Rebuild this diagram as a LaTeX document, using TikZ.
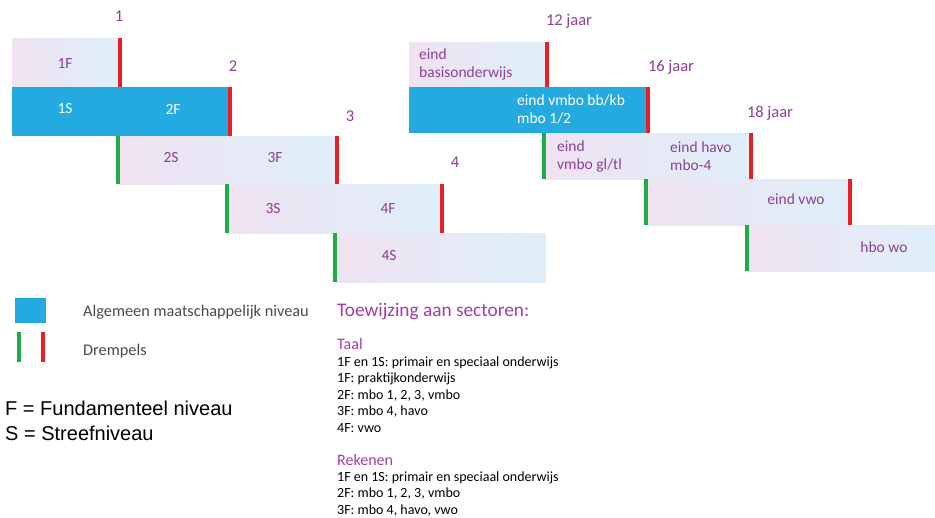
\documentclass[tikz,border=0pt]{standalone}
\usepackage{tikz}
\usetikzlibrary{shapes,calc,positioning}
\usepackage{xcolor}
\usepackage{fontspec}
\setmainfont{Carlito}
\newfontfamily\arialfont{Liberation Sans}

\definecolor{amnblue}{RGB}{34,170,225}
\definecolor{lvlpurple}{RGB}{140,64,152}
\definecolor{titlepurple}{RGB}{165,60,170}
\definecolor{barred}{RGB}{235,30,40}
\definecolor{bargreen}{RGB}{30,172,72}
\definecolor{boxpink}{RGB}{240,226,241}
\definecolor{boxblue}{RGB}{222,239,250}
\definecolor{keygray}{RGB}{80,72,70}

\tikzstyle{lvlbox} = [rectangle, anchor=north west, inner sep=0pt, left color=boxpink, right color=boxblue]
\tikzstyle{amnbox} = [rectangle, anchor=north west, inner sep=0pt, fill=amnblue]
\tikzstyle{redbar} = [draw=barred, line width=4pt]
\tikzstyle{greenbar} = [draw=bargreen, line width=4pt]
\tikzstyle{lvl} = [inner sep=0pt, text=lvlpurple, font=\fontsize{15.5}{18}\selectfont]
\tikzstyle{lvlwhite} = [lvl, text=white]
\tikzstyle{agelabel} = [inner sep=0pt, text=lvlpurple, font=\fontsize{16.5}{18}\selectfont]
\tikzstyle{keytext} = [inner sep=0pt, anchor=west, text=keygray, font=\fontsize{16.3}{18}\selectfont]
\tikzstyle{sectitle} = [inner sep=0pt, anchor=west, text=titlepurple, font=\fontsize{16}{18}\selectfont]
\tikzstyle{seclist} = [inner sep=0pt, anchor=west, align=left, text=black, font=\fontsize{14}{16.5}\selectfont]

\begin{document}
\begin{tikzpicture}[x=1pt,y=-1pt]
\useasboundingbox (0,0) rectangle (935,518);

% niveaus
\node[lvlbox, minimum width=108pt, minimum height=49pt] (b1F) at (12,38) {};
\node[amnbox, minimum width=218pt, minimum height=49pt] (b1S) at (12,87) {};
\node[lvlbox, minimum width=219pt, minimum height=48pt] (b2S) at (118,136) {};
\node[lvlbox, minimum width=215pt, minimum height=49pt] (b3S) at (227,184) {};
\node[lvlbox, minimum width=211pt, minimum height=49pt] (b4S) at (335,233) {};

\draw[redbar] (b1F.north east) -- (b1F.south east);
\draw[redbar] (b1S.north east) -- (b1S.south east);
\draw[greenbar] (b2S.north west) -- (b2S.south west);
\draw[redbar] (b2S.north east) -- (b2S.south east);
\draw[greenbar] (b3S.north west) -- (b3S.south west);
\draw[redbar] (b3S.north east) -- (b3S.south east);
\draw[greenbar] (b4S.north west) -- (b4S.south west);

\node[agelabel] (n1) at (119,16) {1};
\node[agelabel] (n2) at (233,66) {2};
\node[agelabel] (n3) at (350,116) {3};
\node[agelabel] (n4) at (455,162) {4};

\node[lvl] (t1F) at (65,64) {1F};
\node[lvlwhite] (t1S) at (65,109) {1S};
\node[lvlwhite] (t2F) at (173,109) {2F};
\node[lvl] (t2S) at (171,158) {2S};
\node[lvl] (t3F) at (275,158) {3F};
\node[lvl] (t3S) at (273,209) {3S};
\node[lvl] (t4F) at (388,209) {4F};
\node[lvl] (t4S) at (389,256) {4S};

% leeftijden
\node[lvlbox, minimum width=138pt, minimum height=45pt] (r12) at (409,42) {};
\node[amnbox, minimum width=239pt, minimum height=46pt] (r16) at (409,87) {};
\node[lvlbox, minimum width=207pt, minimum height=46pt] (r18) at (544,133) {};
\node[lvlbox, minimum width=204pt, minimum height=46pt] (rvwo) at (646,179) {};
\node[lvlbox, minimum width=188pt, minimum height=46pt] (rhbo) at (747,225) {};

\draw[redbar] (r12.north east) -- (r12.south east);
\draw[redbar] (r16.north east) -- (r16.south east);
\draw[greenbar] (r18.north west) -- (r18.south west);
\draw[redbar] (r18.north east) -- (r18.south east);
\draw[greenbar] (rvwo.north west) -- (rvwo.south west);
\draw[redbar] (rvwo.north east) -- (rvwo.south east);
\draw[greenbar] (rhbo.north west) -- (rhbo.south west);

\node[agelabel] (j12) at (569,21) {12 jaar};
\node[agelabel] (j16) at (671,67) {16 jaar};
\node[agelabel] (j18) at (770,113) {18 jaar};

\node[lvl, anchor=west, align=left] (tbasis) at (419,64) {eind\\basisonderwijs};
\node[lvlwhite, anchor=west, align=left] (tvmbobb) at (517,109.5) {eind vmbo bb/kb\\mbo 1/2};
\node[lvl, anchor=west, align=left] (tvmbogl) at (557,156) {eind\\vmbo gl/tl};
\node[lvl, anchor=west, align=left] (thavo) at (670,156) {eind havo\\mbo-4};
\node[lvl] (tvwo) at (796,199) {eind vwo};
\node[lvl] (thbo) at (884,247) {hbo wo};

% legenda
\node[amnbox, minimum width=31pt, minimum height=25pt] (keyamn) at (15,298) {};
\draw[greenbar] (19,332) -- (19,362);
\draw[redbar] (43,332) -- (43,362);
\node[keytext] (keyamntxt) at (83,312) {Algemeen maatschappelijk niveau};
\node[keytext] (keybartxt) at (83,351) {Drempels};

\node[inner sep=0pt, anchor=west, font=\arialfont\fontsize{20}{22}\selectfont] (fdef) at (5,408) {F = Fundamenteel niveau};
\node[inner sep=0pt, anchor=west, font=\arialfont\fontsize{20}{22}\selectfont] (sdef) at (5,433) {S = Streefniveau};

% sectoren
\node[sectitle, font=\fontsize{19.3}{22}\selectfont] (toew) at (337,312) {Toewijzing aan sectoren:};
\node[sectitle] (taal) at (337,344) {Taal};
\node[seclist] (taallist) at (337,394.5) {1F en 1S: primair en speciaal onderwijs\\1F: praktijkonderwijs\\2F: mbo 1, 2, 3, vmbo\\3F: mbo 4, havo\\4F: vwo};
\node[sectitle] (rek) at (337,460) {Rekenen};
\node[seclist] (reklist) at (337,494) {1F en 1S: primair en speciaal onderwijs\\2F: mbo 1, 2, 3, vmbo\\3F: mbo 4, havo, vwo};

\end{tikzpicture}
\end{document}
